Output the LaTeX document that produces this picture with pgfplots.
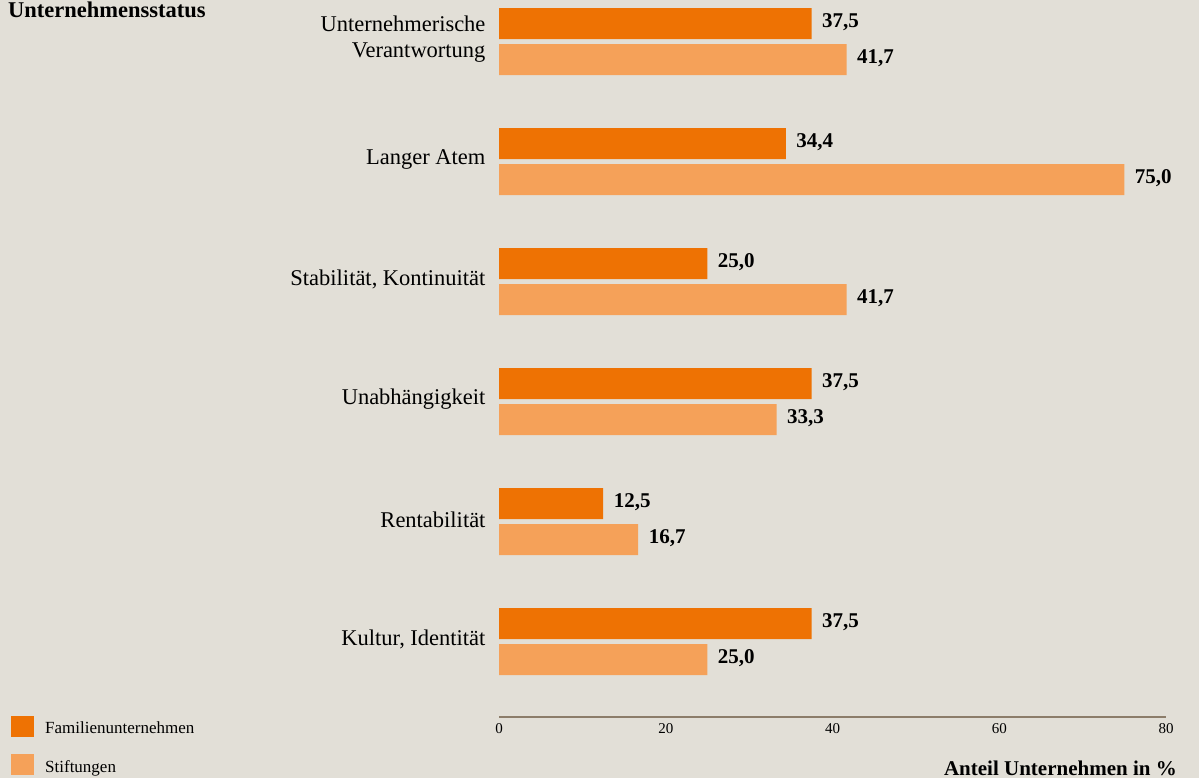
\documentclass[border=0pt]{standalone}
\usepackage{fontspec}
\setmainfont{Liberation Serif}
\usepackage{pgfplots}
\pgfplotsset{compat=1.18}
\definecolor{bg}{RGB}{226,223,215}
\definecolor{dorange}{RGB}{238,114,3}
\definecolor{lorange}{RGB}{245,161,89}
\definecolor{axbrown}{RGB}{140,125,106}
\begin{document}
\begin{tikzpicture}[x=1pt,y=1pt]
\fill[bg] (0,0) rectangle (1199,-778);
\begin{axis}[
  at={(499pt,-717pt)}, anchor=south west,
  scale only axis, width=667pt, height=717pt,
  xmin=0, xmax=80, ymin=-0.629, ymax=5.346,
  xbar, bar width=31pt, clip=false,
  axis line style={draw=none},
  major tick length=0pt,
  xtick={0,20,40,60,80},
  ytick={0,1,2,3,4,5},
  yticklabels={{Kultur, Identität},{Rentabilität},{Unabhängigkeit},{Stabilität, Kontinuität},{Langer Atem},{Unternehmerische\\Verantwortung}},
  yticklabel style={align=right, font=\fontsize{22.5}{26}\selectfont, xshift=-10pt, yshift=2pt},
  xticklabel style={font=\fontsize{15}{17}\selectfont, yshift=-3pt},
  /pgf/number format/assume math mode=true,
  nodes near coords={\pgfmathprintnumber[fixed,fixed zerofill,precision=1,use comma,assume math mode=true]{\pgfplotspointmeta}},
  nodes near coords style={anchor=west, font=\bfseries\fontsize{21}{24}\selectfont, xshift=7pt, yshift=1pt},
]
\addplot[fill=dorange, draw=none, bar shift=18pt] coordinates {(37.5,5) (34.4,4) (25.0,3) (37.5,2) (12.5,1) (37.5,0)};
\addplot[fill=lorange, draw=none, bar shift=-18pt] coordinates {(41.7,5) (75.0,4) (41.7,3) (33.3,2) (16.7,1) (25.0,0)};
\draw[axbrown, line width=2pt] (rel axis cs:0,0) -- (rel axis cs:1,0);
\end{axis}
\node[anchor=base west, font=\bfseries\fontsize{22.5}{26}\selectfont, inner sep=0] at (8,-18) {Unternehmensstatus};
\node[anchor=base east, font=\bfseries\fontsize{21}{24}\selectfont, inner sep=0] at (1177,-775) {Anteil Unternehmen in \%};
\fill[dorange] (11,-716) rectangle (34,-737);
\fill[lorange] (11,-754) rectangle (34,-775);
\node[anchor=base west, font=\fontsize{17}{19}\selectfont, inner sep=0] at (45,-733) {Familienunternehmen};
\node[anchor=base west, font=\fontsize{17}{19}\selectfont, inner sep=0] at (45,-772) {Stiftungen};
\pgfresetboundingbox
\useasboundingbox (0,0) rectangle (1199,-778);
\end{tikzpicture}
\end{document}
